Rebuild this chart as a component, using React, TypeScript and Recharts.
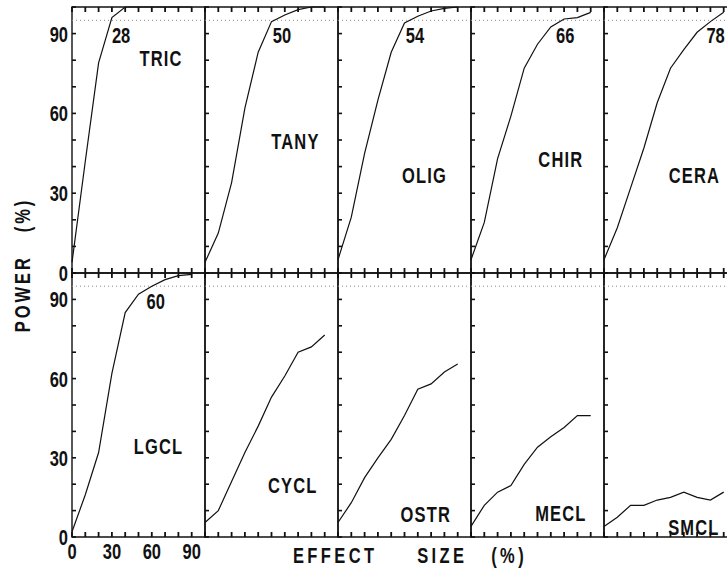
import React from "react";
import {
  LineChart,
  Line,
  XAxis,
  YAxis,
  ReferenceLine,
  ReferenceArea,
  ReferenceDot,
} from "recharts";

// effect size (%) on x, power (%) on y
const effectSize = [0, 10, 20, 30, 40, 50, 60, 70, 80, 90];
const tric = [4, 42, 79, 96, 100, 100, 100, 100, 100, 100];
const tany = [4, 15, 34, 62, 83, 94.5, 97, 99, 100, 100];
const olig = [5, 21, 45, 65, 83, 94, 96.5, 98.5, 99.5, 100];
const chir = [5, 19, 43, 59, 77, 86, 92.5, 95.5, 96, 98];
const cera = [5, 17, 32, 47, 64, 77, 84, 90.5, 94.5, 98];
const lgcl = [2, 16, 32, 62, 85, 92, 95, 97.5, 99, 99.5];
const cycl = [5.5, 10, 21, 32, 42, 53, 61, 70, 72, 76.5];
const ostr = [5.5, 13, 22.5, 30, 37, 46, 56, 58, 62.5, 65.5];
const mecl = [4, 12, 17, 19.5, 27.5, 34, 38, 41.5, 46, 46];
const smcl = [4, 7.5, 12, 12, 14, 15, 17, 15, 14, 17];

// effect size needed for 95% power (only where reached)
const needed: Record<string, number> = { TRIC: 28, TANY: 50, OLIG: 54, CHIR: 66, CERA: 78, LGCL: 60 };

const labelTicks = [0, 30, 60, 90];
const minorTicks = [0, 10, 20, 30, 40, 50, 60, 70, 80, 90, 100];
const target = 95;

const panels = [
  { name: "TRIC", values: tric, row: 0, col: 0, nameAt: [67, 78], markAt: 30 },
  { name: "TANY", values: tany, row: 0, col: 1, nameAt: [68, 46.5], markAt: 51 },
  { name: "OLIG", values: olig, row: 0, col: 2, nameAt: [65, 34], markAt: 51 },
  { name: "CHIR", values: chir, row: 0, col: 3, nameAt: [67.5, 40], markAt: 64 },
  { name: "CERA", values: cera, row: 0, col: 4, nameAt: [68, 34], markAt: 77 },
  { name: "LGCL", values: lgcl, row: 1, col: 0, nameAt: [65, 31.5], markAt: 56 },
  { name: "CYCL", values: cycl, row: 1, col: 1, nameAt: [66, 16.5] },
  { name: "OSTR", values: ostr, row: 1, col: 2, nameAt: [66, 5.5] },
  { name: "MECL", values: mecl, row: 1, col: 3, nameAt: [67.5, 6] },
  { name: "SMCL", values: smcl, row: 1, col: 4, nameAt: [67.5, 0.8] },
];

const FONT = "'Liberation Sans', Arial, sans-serif";
const INK = "#111";
const SX = 0.75; // squeeze text to look like a condensed face
const PW = 133;
const LEFT0 = 72;
const ROWS = [
  { top: 7, h: 266 },
  { top: 273, h: 264 },
];
// axes take 1px each, so the plot box stays where it should
const M = { top: 11, right: 12, bottom: 33, left: 51 };
const TK = 5; // tick length

function T({ x, y, anchor = "middle", size = 22, spacing = 0, rotate = 0, children }: any) {
  return (
    <text
      transform={`translate(${x},${y}) rotate(${rotate}) scale(${SX},1)`}
      textAnchor={anchor}
      fontFamily={FONT}
      fontWeight={700}
      fontSize={size}
      letterSpacing={spacing}
      fill={INK}
    >
      {children}
    </text>
  );
}

// ticks point into the box on every side
function bottomTick(labels: boolean) {
  return (p: any) => (
    <g>
      <path d={`M${p.x},${p.y}v${-TK}`} stroke={INK} strokeWidth={1.8} />
      {labels && labelTicks.includes(p.payload.value) && (
        <T x={p.x} y={p.y + 22}>
          {p.payload.value}
        </T>
      )}
    </g>
  );
}

function topTick(p: any) {
  return <path d={`M${p.x},${p.y}v${TK}`} stroke={INK} strokeWidth={1.8} />;
}

function leftTick(labels: boolean) {
  return (p: any) => (
    <g>
      <path d={`M${p.x},${p.y}h${TK - 1}`} stroke={INK} strokeWidth={1.6} />
      {labels && labelTicks.includes(p.payload.value) && (
        <T x={p.x - 4} y={p.y + 8} anchor="end">
          {p.payload.value}
        </T>
      )}
    </g>
  );
}

function Panel({ name, values, row, col, nameAt, markAt }: any) {
  const data = effectSize.map((x, i) => ({ x, power: values[i] }));
  const r = ROWS[row];
  return (
    <div style={{ position: "absolute", left: LEFT0 + col * PW - M.left - 1, top: r.top - M.top - 1 }}>
      <LineChart width={PW + M.left + M.right + 1} height={r.h + M.top + M.bottom + 2} data={data} margin={M}>
        <ReferenceLine xAxisId="b" y={target} stroke="#888" strokeDasharray="1 3" strokeWidth={1} />
        <ReferenceArea xAxisId="b" x1={0} x2={100} y1={0} y2={100} fill="none" stroke={INK} strokeWidth={1.4} />
        <XAxis
          xAxisId="b"
          dataKey="x"
          type="number"
          domain={[0, 100]}
          ticks={minorTicks}
          height={1}
          axisLine={false}
          tickLine={false}
          tickSize={0}
          tickMargin={0}
          interval={0}
          tick={bottomTick(row === 1 && col === 0)}
        />
        <XAxis
          xAxisId="t"
          orientation="top"
          dataKey="x"
          type="number"
          domain={[0, 100]}
          ticks={minorTicks}
          height={1}
          axisLine={false}
          tickLine={false}
          tickSize={0}
          tickMargin={0}
          interval={0}
          tick={topTick}
        />
        <YAxis
          type="number"
          domain={[0, 100]}
          ticks={minorTicks}
          width={1}
          axisLine={false}
          tickLine={false}
          tickSize={0}
          tickMargin={0}
          interval={0}
          tick={leftTick(col === 0)}
        />
        <Line
          xAxisId="b"
          dataKey="power"
          type="linear"
          stroke={INK}
          strokeWidth={1.2}
          dot={false}
          isAnimationActive={false}
        />
        <ReferenceDot
          xAxisId="b"
          x={nameAt[0]}
          y={nameAt[1]}
          r={0}
          shape={(p: any) => (
            <T x={p.cx} y={p.cy} spacing={1.5}>
              {name}
            </T>
          )}
        />
        {needed[name] !== undefined && (
          <ReferenceDot
            xAxisId="b"
            x={markAt}
            y={86.5}
            r={0}
            shape={(p: any) => (
              <T x={p.cx} y={p.cy} anchor="start">
                {needed[name]}
              </T>
            )}
          />
        )}
      </LineChart>
    </div>
  );
}

export default function App() {
  return (
    <div
      style={{
        position: "absolute",
        left: 0,
        top: 0,
        width: 727,
        height: 568,
        overflow: "hidden",
        background: "#fff",
      }}
    >
      {panels.map((p) => (
        <Panel key={p.name} {...p} />
      ))}
      <svg width={727} height={568} style={{ position: "absolute", left: 0, top: 0, pointerEvents: "none" }}>
        <T x={30} y={265} rotate={-90} spacing={4}>
          POWER{"\u00a0\u00a0\u00a0"}(%)
        </T>
        <T x={410} y={563} spacing={4.5}>
          EFFECT{"\u00a0\u00a0\u00a0\u00a0\u00a0"}SIZE{"\u00a0\u00a0\u00a0"}(%)
        </T>
      </svg>
    </div>
  );
}
